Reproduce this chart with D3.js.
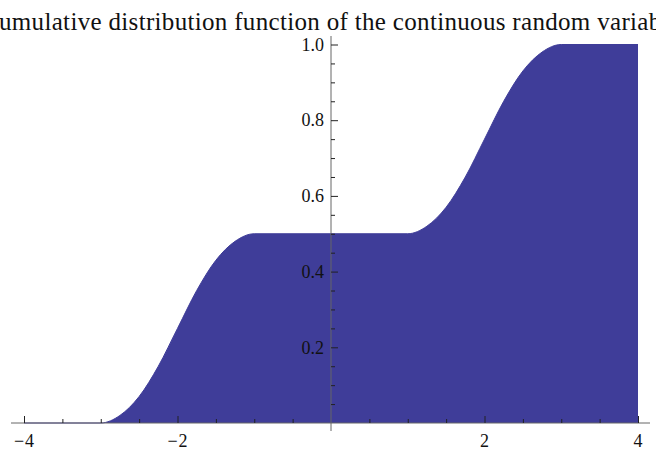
<!DOCTYPE html>
<html>
<head>
<meta charset="utf-8">
<script src="https://cdn.jsdelivr.net/npm/d3@7"></script>
<style>
  html, body { margin: 0; padding: 0; background: #fff; }
  svg { display: block; }
</style>
</head>
<body>
<svg id="chart" width="656" height="452"></svg>
<script>
// ---- data ----
const titleText = "Cumulative distribution function of the continuous random variable";
const xValues = [-4, -3, -2.75, -2.5, -2.25, -2, -1.75, -1.5, -1.25, -1,
                 1, 1.25, 1.5, 1.75, 2, 2.25, 2.5, 2.75, 3, 4];
const cdfValues = [0, 0, 0.02, 0.07, 0.15, 0.25, 0.35, 0.43, 0.48, 0.5,
                   0.5, 0.52, 0.57, 0.65, 0.75, 0.85, 0.93, 0.98, 1, 1];
const xMajorTicks = [-4, -2, 2, 4];
const xMinorTicks = [-3.5, -3, -2.5, -1.5, -1, -0.5, 0.5, 1, 1.5, 2.5, 3, 3.5];
const yMajorTicks = [0.2, 0.4, 0.6, 0.8, 1.0];
const yMinorTicks = [0.05, 0.1, 0.15, 0.25, 0.3, 0.35, 0.45, 0.5, 0.55, 0.65, 0.7, 0.75, 0.85, 0.9, 0.95];

const data = xValues.map((x, i) => ({ x, y: cdfValues[i] }));

const svg = d3.select("#chart");
const x = d3.scaleLinear().domain([-4, 4]).range([24, 638]);
const y = d3.scaleLinear().domain([0, 1]).range([423, 44.5]);

const fillColor = "#3f3d99";
const serif = '"Liberation Serif", "Times New Roman", serif';

// filled area
svg.append("path")
  .datum(data)
  .attr("fill", fillColor)
  .attr("d", d3.area().x(d => x(d.x)).y0(y(0)).y1(d => y(d.y)).curve(d3.curveMonotoneX));

svg.append("path")
  .datum(data)
  .attr("fill", "none")
  .attr("stroke", fillColor)
  .attr("stroke-width", 1)
  .attr("d", d3.line().x(d => x(d.x)).y(d => y(d.y)).curve(d3.curveMonotoneX));

// axis lines (extended slightly beyond range, as in the reference)
svg.append("line")
  .attr("x1", 11).attr("x2", 650).attr("y1", y(0)).attr("y2", y(0))
  .attr("stroke", "#666").attr("stroke-width", 1);
svg.append("line")
  .attr("x1", x(0)).attr("x2", x(0)).attr("y1", 36).attr("y2", 431)
  .attr("stroke", "#666").attr("stroke-width", 1);

const fmt = d => (d < 0 ? "\u2212" + Math.abs(d) : String(d));

// x axis major
const gx = svg.append("g").attr("transform", `translate(0,${y(0)})`)
  .attr("font-size", 18).attr("font-family", serif)
  .call(d3.axisBottom(x).tickValues(xMajorTicks).tickSize(-7).tickFormat(fmt));
gx.attr("font-size", 18).attr("font-family", serif);
gx.select(".domain").remove();
gx.selectAll("line").attr("stroke", "#222");
gx.selectAll("text")
  .attr("y", 24).attr("dy", null)
  .attr("font-size", 18)
  .style("letter-spacing", "1px")
  .attr("fill", "#111");

// x axis minor
const gxm = svg.append("g").attr("transform", `translate(0,${y(0)})`)
  .call(d3.axisBottom(x).tickValues(xMinorTicks).tickSize(-4).tickFormat(""));
gxm.select(".domain").remove();
gxm.selectAll("line").attr("stroke", "#222");

// y axis major
const gy = svg.append("g").attr("transform", `translate(${x(0)},0)`)
  .call(d3.axisLeft(y).tickValues(yMajorTicks).tickSize(-7).tickPadding(7).tickFormat(d3.format(".1f")));
gy.attr("font-size", 18).attr("font-family", serif);
gy.select(".domain").remove();
gy.selectAll("line").attr("stroke", "#222");
gy.selectAll("text")
  .attr("font-size", 18)
  .attr("fill", "#111");

// y axis minor
const gym = svg.append("g").attr("transform", `translate(${x(0)},0)`)
  .call(d3.axisLeft(y).tickValues(yMinorTicks).tickSize(-4).tickFormat(""));
gym.select(".domain").remove();
gym.selectAll("line").attr("stroke", "#222");

// title (wider than the page in the reference, so it is clipped at both edges)
svg.append("text")
  .attr("x", 331).attr("y", 30)
  .attr("text-anchor", "middle")
  .attr("textLength", 698)
  .attr("lengthAdjust", "spacing")
  .attr("font-size", 25).attr("font-family", serif).attr("fill", "#111")
  .text(titleText);
</script>
</body>
</html>
